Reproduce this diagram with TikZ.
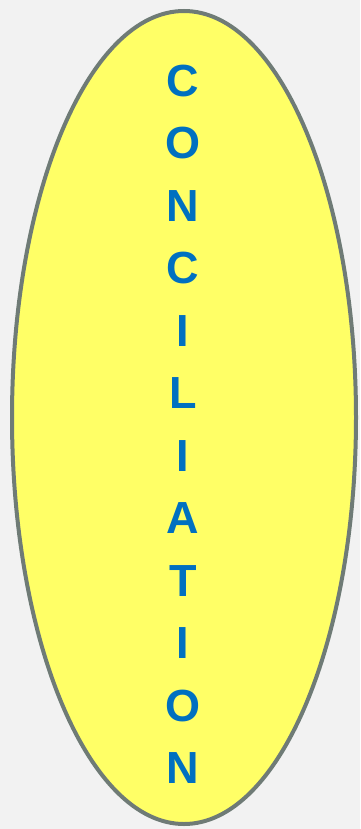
\documentclass[tikz,border=0pt]{standalone}
\usepackage{fontspec}
\setmainfont{Liberation Sans}
\usepackage{xcolor}
\usepackage{tikz}
\usetikzlibrary{shapes.geometric,positioning}
\definecolor{bgray}{RGB}{242,242,242}
\definecolor{ovalfill}{RGB}{255,255,102}
\definecolor{ovaldraw}{RGB}{111,123,118}
\definecolor{letterblue}{RGB}{0,112,192}

\begin{document}
\begin{tikzpicture}[x=1pt, y=-1pt]
    \tikzstyle{oval}=[ellipse, draw=ovaldraw, line width=4pt, fill=ovalfill,
      minimum width=344pt, minimum height=813pt, inner sep=0pt]
    \tikzstyle{letter}=[text=letterblue, anchor=base, inner sep=0pt,
      font=\fontsize{45}{54}\selectfont\bfseries]

    \fill[bgray] (0,0) rectangle (360,829);
    \useasboundingbox (0,0) rectangle (360,829);

    \node[oval] (oval) at (184,417.5) {};

    \foreach \ch [count=\i] in {C,O,N,C,I,L,I,A,T,I,O,N}
      \node[letter] (ch\i) at (183,{96.5+62.45*(\i-1)}) {\ch};
  \end{tikzpicture}
\end{document}
